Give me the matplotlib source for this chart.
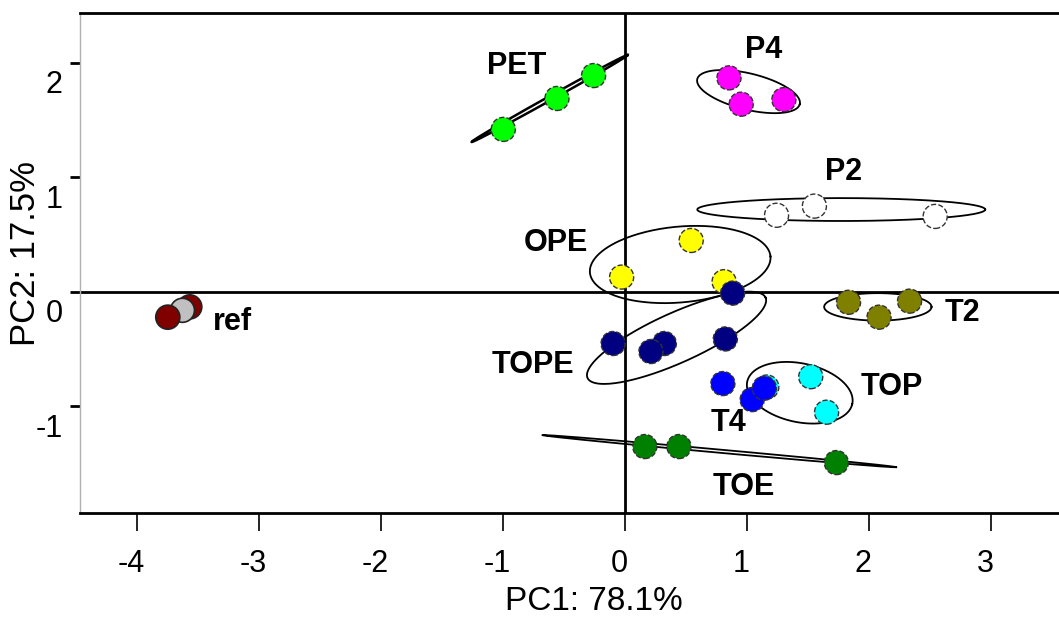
import numpy as np
import matplotlib
matplotlib.use("Agg")
import matplotlib.pyplot as plt
from matplotlib.transforms import ScaledTranslation

plt.rcParams['font.family'] = ['Liberation Sans', 'DejaVu Sans']
plt.rcParams['axes.unicode_minus'] = False

# PCA scores per sample group (PC1, PC2)
groups = ["ref", "PET", "P4", "P2", "OPE", "TOPE", "TOP", "T4", "T2", "TOE"]
ref_pc1 = [-3.57, -3.63, -3.75]
ref_pc2 = [-0.13, -0.16, -0.22]
ref_colors = ["#800000", "#C0C0C0", "#800000"]
pet_pc1 = [-1.00, -0.56, -0.26]
pet_pc2 = [1.42, 1.69, 1.89]
p4_pc1 = [0.85, 0.95, 1.30]
p4_pc2 = [1.87, 1.64, 1.68]
p2_pc1 = [1.24, 1.55, 2.54]
p2_pc2 = [0.67, 0.75, 0.66]
ope_pc1 = [-0.03, 0.54, 0.81]
ope_pc2 = [0.13, 0.45, 0.09]
tope_pc1 = [0.88, -0.10, 0.32, 0.21, 0.82]
tope_pc2 = [-0.01, -0.45, -0.45, -0.52, -0.41]
top_pc1 = [1.16, 1.52, 1.65]
top_pc2 = [-0.83, -0.74, -1.05]
t4_pc1 = [0.80, 1.04, 1.14]
t4_pc2 = [-0.80, -0.94, -0.84]
t2_pc1 = [1.83, 2.08, 2.33]
t2_pc2 = [-0.09, -0.22, -0.08]
toe_pc1 = [0.16, 0.44, 1.73]
toe_pc2 = [-1.35, -1.35, -1.49]

x_ticks = [-4, -3, -2, -1, 0, 1, 2, 3]
y_ticks = [-1, 0, 1, 2]

fig = plt.figure(figsize=(10.59, 6.18), dpi=100)
ax = fig.add_axes([0.0755, 0.1694, 0.9245, 0.8091])
ax.set_xlim(-4.47, 3.555)
ax.set_ylim(-1.933, 2.434)

# origin cross-hairs
ax.axhline(0, color="black", lw=2, zorder=1)
ax.axvline(0, color="black", lw=2, zorder=1)


def envelope(center, u, v, lw=1.3):
    t = np.linspace(0, 2 * np.pi, 300)
    c = np.asarray(center)
    pts = c[:, None] + np.outer(u, np.cos(t)) + np.outer(v, np.sin(t))
    ax.plot(pts[0], pts[1], color="black", lw=lw, zorder=2)


# group outlines: centre, half-axis vectors (data units)
envelope((-0.62, 1.69), (0.64, 0.38), (-0.01, 0.015), lw=1.8)
envelope((1.01, 1.75), (0.42, -0.11), (-0.037, -0.153))
envelope((1.77, 0.72), (1.18, 0.0), (0.0, 0.10))
envelope((0.45, 0.24), (0.74, 0.07), (0.025, -0.33))
envelope((0.42, -0.40), (0.73, 0.35), (0.08, -0.20))
envelope((1.43, -0.88), (0.43, -0.10), (-0.055, -0.25))
envelope((2.07, -0.13), (0.44, 0.0), (0.0, 0.12))
envelope((0.77, -1.39), (1.45, -0.14), (0.0, 0.014))


def pts(xs, ys, color):
    ax.scatter(xs, ys, s=300, c=color, edgecolors="#333333", linewidths=1.0,
               linestyles="--", zorder=3)


pts(pet_pc1, pet_pc2, "#00FF00")
pts(p4_pc1, p4_pc2, "#FF00FF")
pts(p2_pc1, p2_pc2, "#FFFFFF")
pts(ope_pc1, ope_pc2, "#FFFF00")
pts(tope_pc1, tope_pc2, "#000080")
pts(top_pc1, top_pc2, "#00FFFF")
pts(t4_pc1, t4_pc2, "#0000FF")
pts(t2_pc1, t2_pc2, "#808000")
pts(toe_pc1, toe_pc2, "#008000")
ax.scatter(ref_pc1, ref_pc2, s=300, c=ref_colors, edgecolors="#222222",
           linewidths=1.2, zorder=3)

# group labels
lab_kw = dict(fontsize=22, fontweight="bold", ha="center", va="center", zorder=4)
ax.text(-0.89, 1.97, "PET", **lab_kw)
ax.text(1.13, 2.11, "P4", **lab_kw)
ax.text(1.79, 1.05, "P2", **lab_kw)
ax.text(-0.57, 0.43, "OPE", **lab_kw)
ax.text(-0.76, -0.64, "TOPE", **lab_kw)
ax.text(2.18, -0.83, "TOP", **lab_kw)
ax.text(0.85, -1.14, "T4", **lab_kw)
ax.text(0.97, -1.70, "TOE", **lab_kw)
ax.text(2.76, -0.18, "T2", **lab_kw)
ax.text(-3.22, -0.26, "ref", **lab_kw)

# axes frame
ax.spines["right"].set_visible(False)
ax.spines["top"].set_linewidth(2)
ax.spines["bottom"].set_linewidth(2)
ax.spines["left"].set_linewidth(1)
ax.spines["left"].set_color("#B0B0B0")

ax.set_xticks(x_ticks)
ax.set_yticks(y_ticks)
ax.set_xticklabels([str(v) for v in x_ticks])
ax.set_yticklabels([str(v) for v in y_ticks])
ax.tick_params(axis="x", direction="out", length=13, width=1.2, pad=13,
               labelsize=22)
ax.tick_params(axis="y", direction="out", length=7.5, width=2, pad=5,
               labelsize=22)

for lab in ax.get_yticklabels():
    lab.set_transform(lab.get_transform()
                      + ScaledTranslation(0, -0.19, fig.dpi_scale_trans))
for lab in ax.get_xticklabels():
    lab.set_transform(lab.get_transform()
                      + ScaledTranslation(-0.06, 0, fig.dpi_scale_trans))

ax.set_xlabel("PC1: 78.1%", fontsize=24)
ax.set_ylabel("PC2: 17.5%", fontsize=25)
ax.xaxis.set_label_coords(0.525, -0.177)
ax.xaxis.label.set_va("center")
ax.yaxis.set_label_coords(-0.056, 0.52)
ax.yaxis.label.set_va("center")

fig.savefig("out.png", dpi=100)
